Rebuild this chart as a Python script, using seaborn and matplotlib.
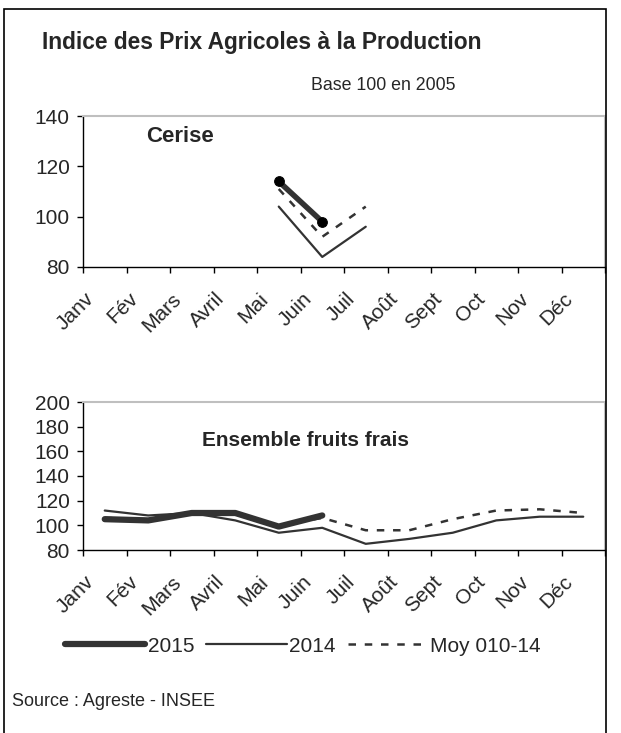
import matplotlib
matplotlib.use("Agg")
import matplotlib.pyplot as plt
from matplotlib.transforms import ScaledTranslation
from matplotlib.lines import Line2D
from matplotlib.patches import Rectangle
import seaborn as sns
import numpy as np

# donnees (base 100 en 2005)
mois = ["Janv", "Fév", "Mars", "Avril", "Mai", "Juin",
        "Juil", "Août", "Sept", "Oct", "Nov", "Déc"]
nan = np.nan

cerise_2015 = [nan, nan, nan, nan, 114, 98, nan, nan, nan, nan, nan, nan]
cerise_2014 = [nan, nan, nan, nan, 104, 84, 96, nan, nan, nan, nan, nan]
cerise_moy = [nan, nan, nan, nan, 111, 92, 104, nan, nan, nan, nan, nan]

fruits_2015 = [105, 104, 110, 110, 99, 108, nan, nan, nan, nan, nan, nan]
fruits_2014 = [112, 108, 110, 104, 94, 98, 85, 89, 94, 104, 107, 107]
fruits_moy = [106, 105, 110, 109, 100, 106, 96, 96, 105, 112, 113, 110]

legende = ["2015", "2014", "Moy 010-14"]

sns.set_theme(style="white")
plt.rcParams["font.family"] = ["Liberation Sans", "DejaVu Sans"]

GRIS = "#333333"
TAILLE = 15
fig = plt.figure(figsize=(6.21, 7.33), dpi=100)

# cadre exterieur
fig.patches.append(Rectangle((4 / 621, -0.01), 602 / 621, 1 - 9 / 733 + 0.01,
                             transform=fig.transFigure, fill=False,
                             edgecolor="black", linewidth=1.2))

fig.text(262 / 621, 1 - 42 / 733, "Indice des Prix Agricoles à la Production",
         ha="center", va="center", fontsize=16.4, fontweight="bold")
fig.text(311 / 621, 1 - 85 / 733, "Base 100 en 2005", ha="left", va="center",
         fontsize=12.8)
fig.text(12 / 621, 1 - 702 / 733, "Source : Agreste - INSEE", ha="left",
         va="center", fontsize=13)

x = np.arange(len(mois))


def panneau(ax, s2015, s2014, smoy, ylim, yticks, titre, tx, ty, tt, marqueurs):
    sns.lineplot(x=x, y=s2014, ax=ax, color=GRIS, linewidth=1.6)
    sns.lineplot(x=x, y=smoy, ax=ax, color=GRIS, linewidth=1.8,
                 linestyle=(0, (3, 3.5)))
    if marqueurs:
        sns.lineplot(x=x, y=s2015, ax=ax, color=GRIS, linewidth=4,
                     marker="o", markersize=7, markerfacecolor="black",
                     markeredgecolor="black")
    else:
        sns.lineplot(x=x, y=s2015, ax=ax, color=GRIS, linewidth=4.5)
    ax.set_xlim(-0.5, 11.5)
    ax.set_ylim(*ylim)
    ax.set_yticks(yticks)
    ax.set_yticklabels([str(v) for v in yticks], fontsize=TAILLE)
    ax.set_xticks(x)
    ax.set_xticklabels(mois, rotation=45, ha="right", fontsize=TAILLE)
    ax.set_xticks(np.arange(-0.5, 12, 1), minor=True)
    ax.tick_params(axis="x", which="major", length=0, pad=16)
    ax.tick_params(axis="x", which="minor", length=4, width=1,
                   color="black", direction="out", bottom=True)
    ax.tick_params(axis="y", length=4, width=1, color="black",
                   direction="out", left=True, pad=5.5)
    ax.grid(False)
    for cote in ["left", "bottom"]:
        ax.spines[cote].set_color("black")
        ax.spines[cote].set_linewidth(1)
    for cote in ["top", "right"]:
        ax.spines[cote].set_color("#BFBFBF")
        ax.spines[cote].set_linewidth(1.5)
    decal = ScaledTranslation(-7 / 100, 0, fig.dpi_scale_trans)
    for lab in ax.get_xticklabels():
        lab.set_transform(lab.get_transform() + decal)
    ax.text(tx, ty, titre, transform=ax.transAxes, fontsize=tt,
            fontweight="bold", ha="left", va="center")
    ax.set_xlabel("")
    ax.set_ylabel("")


ax1 = fig.add_axes([83 / 621, 1 - 267 / 733, 522 / 621, 151 / 733])
panneau(ax1, cerise_2015, cerise_2014, cerise_moy, (80, 140),
        [80, 100, 120, 140], "Cerise", (146 - 83) / 522,
        1 - (137 - 116) / 151, 16, True)

ax2 = fig.add_axes([83 / 621, 1 - 550 / 733, 522 / 621, 148 / 733])
panneau(ax2, fruits_2015, fruits_2014, fruits_moy, (80, 200),
        [80, 100, 120, 140, 160, 180, 200], "Ensemble fruits frais",
        (202 - 83) / 522, 1 - (440 - 402) / 148, 15, False)

poignees = [Line2D([], [], color=GRIS, linewidth=4.5),
            Line2D([], [], color=GRIS, linewidth=1.6),
            Line2D([], [], color=GRIS, linewidth=1.8, linestyle=(0, (3, 3.5)))]
fig.legend(poignees, legende, loc="center left",
           bbox_to_anchor=(65 / 621, 1 - 646 / 733), ncol=3, frameon=False,
           fontsize=TAILLE, handlelength=3.85, handletextpad=0.12,
           columnspacing=0.58, borderpad=0, borderaxespad=0)

fig.savefig("out.png", dpi=100)
